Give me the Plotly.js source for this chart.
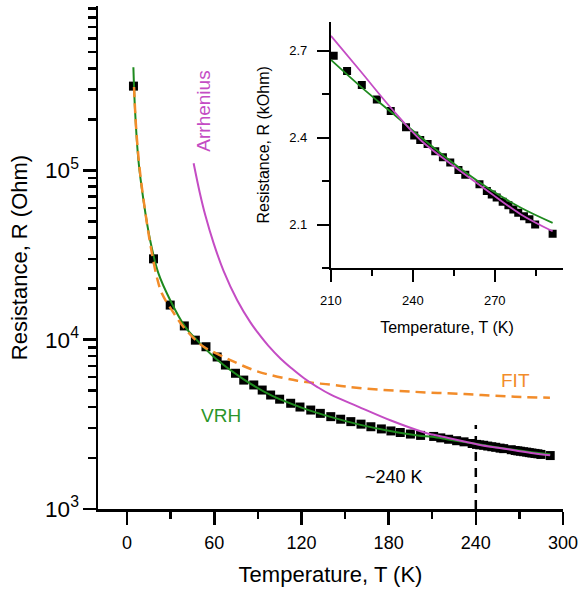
<!DOCTYPE html>
<html><head><meta charset="utf-8">
<script src="https://cdn.plot.ly/plotly-3.0.1.min.js"></script>
<style>html,body{margin:0;padding:0;background:#fff}</style>
</head><body><div id="chart" style="width:580px;height:592px"></div>
<script>
// Measured data (T in K, R in Ohm)
const dataT = [4.4, 18.2, 29.7, 39.4, 47, 54.3, 62, 67.7, 74.6, 80.3, 87.2, 93, 98.8, 105, 112.6, 119, 126.4, 133, 140.2, 147, 154, 161, 167.8, 175, 181.6, 188, 195, 202,
  211, 215.9, 221.3, 226.8, 231.9, 237.5, 240.5, 242.7, 245.4, 248.2, 251, 253.7, 256.7, 259.2, 264.4, 267.1, 268.9, 270.7, 272.9, 275, 276.8, 278.6, 280.7, 282.7, 284.8, 291.2];
const dataR = [314000, 30000, 16000, 12050, 9930, 9080, 7900, 7080, 6330, 5770, 5400, 5040, 4710, 4450, 4210, 4000, 3840, 3670, 3510, 3390, 3280, 3170, 3060, 2970, 2890, 2830, 2770, 2720,
  2682, 2630, 2581, 2531, 2492, 2436, 2407, 2392, 2378, 2353, 2332, 2314, 2288, 2272, 2239, 2216, 2204, 2193, 2179, 2167, 2152, 2141, 2129, 2118, 2100, 2068];

// VRH fit curve
const vrhT = [4.35, 5.5, 7.8, 11.3, 15.9, 21.6, 29.7, 40, 49.2, 62, 80, 100, 120, 140, 160, 180, 200, 210, 221, 232, 243, 255.2, 267.4, 279.6, 291.2];
const vrhR = [406000, 226000, 115000, 66500, 38600, 24600, 17100, 11900, 9700, 7600, 5850, 4650, 3970, 3500, 3150, 2900, 2720, 2668, 2575, 2488, 2401, 2309, 2227, 2158, 2106];

// Arrhenius fit curve
const arrT = [45.8, 50, 53.9, 59.6, 66.4, 75.8, 85, 89.6, 97, 105.7, 113, 121.8, 131, 140.2, 158.6, 181.6, 204.6, 210, 221, 232, 243, 255.2, 267.4, 279.6, 291.2];
const arrR = [110000, 74000, 54000, 37000, 25500, 17100, 12600, 11100, 9250, 7720, 6800, 5920, 5250, 4730, 4040, 3330, 2830, 2751, 2627, 2502, 2390, 2300, 2216, 2135, 2077];

// FIT curve
const fitT = [4.8, 6.2, 8.5, 11.7, 15.9, 20.5, 24, 30.9, 37.8, 45.8, 52.7, 60, 71.1, 89.6, 117.2, 140, 163.2, 197.7, 232.3, 266.8, 291];
const fitR = [310000, 180000, 105000, 63700, 37000, 23400, 18700, 14900, 12200, 10200, 9070, 8400, 7570, 6500, 5720, 5420, 5150, 4920, 4770, 4600, 4540];

// crossover marker
const markT = [240, 240];
const markR = [1000, 3130];

// Inset (T >= 209 K, R in kOhm)
const insetMin = 209;
function sel(T, R) {
  const x = [], y = [];
  T.forEach((t, i) => { if (t >= insetMin) { x.push(t); y.push(R[i] / 1000); } });
  return {x, y};
}
const insD = sel(dataT, dataR), insV = sel(vrhT, vrhR), insA = sel(arrT, arrR);

const GREEN = '#1e8a1e', MAG = '#c44cc4', ORANGE = '#f28c2a';
const FONT = 'Liberation Sans, Arial, sans-serif';

const traces = [
  {x: dataT, y: dataR, mode: 'markers', marker: {symbol: 'square', size: 9, color: 'black'}, xaxis: 'x', yaxis: 'y'},
  {x: markT, y: markR, mode: 'lines', line: {color: 'black', width: 2.5, dash: '9px,7px'}, xaxis: 'x', yaxis: 'y'},
  {x: vrhT, y: vrhR, mode: 'lines', line: {color: GREEN, width: 2, shape: 'spline'}, xaxis: 'x', yaxis: 'y'},
  {x: fitT, y: fitR, mode: 'lines', line: {color: ORANGE, width: 2.5, shape: 'spline', dash: '10px,6px'}, xaxis: 'x', yaxis: 'y'},
  {x: arrT, y: arrR, mode: 'lines', line: {color: MAG, width: 2, shape: 'spline'}, xaxis: 'x', yaxis: 'y'},
  {x: insD.x, y: insD.y, mode: 'markers', marker: {symbol: 'square', size: 8, color: 'black'}, xaxis: 'x2', yaxis: 'y2'},
  {x: insV.x, y: insV.y, mode: 'lines', line: {color: GREEN, width: 1.8, shape: 'spline'}, xaxis: 'x2', yaxis: 'y2'},
  {x: insA.x, y: insA.y, mode: 'lines', line: {color: MAG, width: 1.8, shape: 'spline'}, xaxis: 'x2', yaxis: 'y2'}
];

const layout = {
  width: 580, height: 592,
  margin: {l: 98, r: 17, t: 6, b: 83},
  paper_bgcolor: 'white', plot_bgcolor: 'white',
  showlegend: false,
  font: {family: FONT, color: 'black'},
  xaxis: {
    range: [-20, 300], tickvals: [0, 60, 120, 180, 240, 300],
    showline: true, linewidth: 2.5, linecolor: 'black', showgrid: false, zeroline: false,
    ticks: 'outside', ticklen: 13, tickwidth: 2.5, tickcolor: 'black',
    minor: {ticks: 'outside', ticklen: 7, tickwidth: 2.5, tickcolor: 'black', dtick: 30, tick0: 0, showgrid: false},
    tickfont: {size: 18}, ticklabelstandoff: 3,
    title: {text: 'Temperature, T (K)', font: {size: 22}, standoff: 15}
  },
  yaxis: {
    type: 'log', range: [3, 5.97], dtick: 1, exponentformat: 'power',
    showline: true, linewidth: 2.5, linecolor: 'black', showgrid: false, zeroline: false,
    ticks: 'outside', ticklen: 13, tickwidth: 2.5, tickcolor: 'black',
    minor: {ticks: 'outside', ticklen: 8, tickwidth: 2.5, tickcolor: 'black', dtick: 'D1', showgrid: false},
    tickfont: {size: 18},
    title: {text: 'Resistance, R (Ohm)', font: {size: 22}, standoff: 12}
  },
  xaxis2: {
    domain: [0.501, 1], anchor: 'y2', range: [210, 295], tickvals: [210, 240, 270],
    showline: true, linewidth: 2, linecolor: 'black', showgrid: false, zeroline: false,
    ticks: 'outside', ticklen: 12, tickwidth: 2, tickcolor: 'black',
    minor: {ticks: 'outside', ticklen: 6, tickwidth: 2, tickcolor: 'black', dtick: 15, tick0: 0, showgrid: false},
    tickfont: {size: 13}, ticklabelstandoff: 7,
    title: {text: 'Temperature, T (K)', font: {size: 16}, standoff: 15}
  },
  yaxis2: {
    domain: [0.479, 0.969], anchor: 'x2', range: [1.95, 2.8], tickvals: [2.1, 2.4, 2.7],
    showline: true, linewidth: 2, linecolor: 'black', showgrid: false, zeroline: false,
    ticks: 'outside', ticklen: 12, tickwidth: 2, tickcolor: 'black',
    minor: {ticks: 'outside', ticklen: 7, tickwidth: 2, tickcolor: 'black', dtick: 0.15, tick0: 2.1, showgrid: false},
    tickfont: {size: 13}, ticklabelstandoff: 7,
    title: {text: 'Resistance, R (kOhm)', font: {size: 16}, standoff: 16}
  },
  annotations: [
    {x: 52.5, y: 5.348, xref: 'x', yref: 'y', text: 'Arrhenius', showarrow: false, textangle: -90, font: {size: 19, color: MAG}},
    {x: 64.9, y: 3.555, xref: 'x', yref: 'y', text: 'VRH', showarrow: false, font: {size: 19, color: '#2a952a'}},
    {x: 267.3, y: 3.761, xref: 'x', yref: 'y', text: 'FIT', showarrow: false, font: {size: 19, color: ORANGE}},
    {x: 183.7, y: 3.189, xref: 'x', yref: 'y', text: '~240 K', showarrow: false, font: {size: 18, color: 'black'}}
  ]
};

Plotly.newPlot('chart', traces, layout, {displayModeBar: false, staticPlot: true});
</script></body></html>
